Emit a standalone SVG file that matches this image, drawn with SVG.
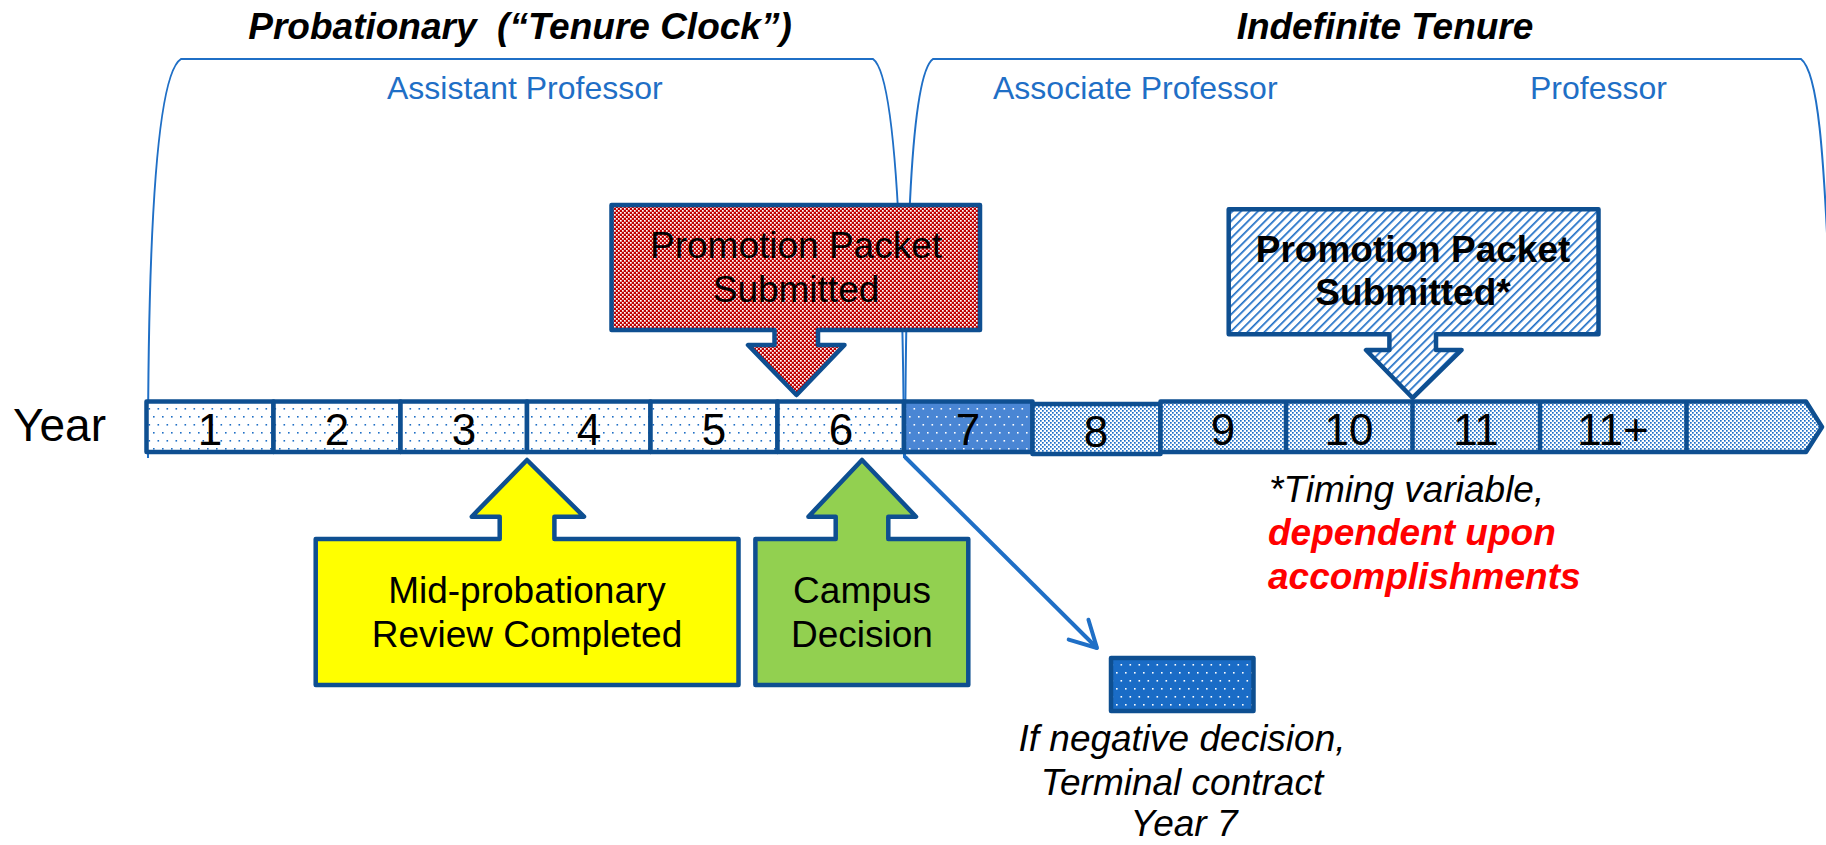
<svg xmlns="http://www.w3.org/2000/svg" width="1826" height="845" viewBox="0 0 1826 845">
<style>
text{font-family:"Liberation Sans",Arial,sans-serif;}
.ttl{font-size:37px;font-weight:bold;font-style:italic;fill:#000;text-anchor:middle;white-space:pre;}
.rank{font-size:32px;fill:#1f6fc6;}
.lbl{font-size:37px;fill:#000;text-anchor:middle;}
.num{font-size:44px;fill:#000;text-anchor:middle;}
.box{stroke:#0e4f91;stroke-width:4.5;stroke-linejoin:round;}
.brk{fill:none;stroke:#1f6fc6;stroke-width:2;}
.note{font-size:37px;font-style:italic;}
</style>
<defs>
<pattern id="dotsLight" width="9" height="16" patternUnits="userSpaceOnUse">
<rect width="9" height="16" fill="#fff"/>
<rect x="0" y="0" width="1.6" height="1.6" fill="#1f6fc6"/>
<rect x="4.5" y="8" width="1.6" height="1.6" fill="#1f6fc6"/>
</pattern>
<pattern id="dotsMid" width="9" height="16" patternUnits="userSpaceOnUse">
<rect width="9" height="16" fill="#4a86d4"/>
<rect x="0" y="0" width="1.6" height="1.6" fill="#fff"/>
<rect x="4.5" y="8" width="1.6" height="1.6" fill="#fff"/>
</pattern>
<pattern id="dotsDark" width="9" height="16" patternUnits="userSpaceOnUse">
<rect width="9" height="16" fill="#1a6cc6"/>
<rect x="0" y="0" width="1.6" height="1.6" fill="#fff"/>
<rect x="4.5" y="8" width="1.6" height="1.6" fill="#fff"/>
</pattern>
<pattern id="dotsDense" width="4" height="4" patternUnits="userSpaceOnUse">
<rect width="4" height="4" fill="#fff"/>
<rect x="0" y="0" width="1.7" height="1.7" fill="#1f6fc6"/>
<rect x="2" y="2" width="1.7" height="1.7" fill="#1f6fc6"/>
</pattern>
<pattern id="redCheck" width="4" height="4" patternUnits="userSpaceOnUse">
<rect width="4" height="4" fill="#c00000"/>
<rect x="0" y="0" width="1.7" height="1.7" fill="#fff"/>
<rect x="2" y="2" width="1.7" height="1.7" fill="#fff"/>
</pattern>
<pattern id="hatch" width="6" height="6" patternUnits="userSpaceOnUse" patternTransform="rotate(45)">
<rect width="6" height="6" fill="#fff"/>
<rect x="0" y="0" width="1.7" height="6" fill="#1f6fc6"/>
</pattern>
<marker id="openArrow" viewBox="-30 -18 34 36" markerWidth="34" markerHeight="36" refX="0" refY="0" orient="auto" markerUnits="userSpaceOnUse">
<path d="M-26,-14 L0,0 L-26,14" fill="none" stroke="#1f6fc6" stroke-width="4" stroke-linecap="round" stroke-linejoin="round"/>
</marker>
</defs>

<rect width="1826" height="845" fill="#fff"/>

<g id="titles">
<text class="ttl" x="520" y="39">Probationary  (“Tenure Clock”)</text>
<text class="ttl" x="1385" y="39">Indefinite Tenure</text>
</g>

<g id="brackets">
<path class="brk" d="M148,458 C148,250 155,75 181,59 L873,59 C896,75 903,250 904,458"/>
<path class="brk" d="M905,458 C906,250 910,75 933,59 L1801,59 C1818,72 1824,150 1830,300"/>
<text class="rank" x="387" y="99">Assistant Professor</text>
<text class="rank" x="993" y="99">Associate Professor</text>
<text class="rank" x="1530" y="99">Professor</text>
</g>

<g id="year-label">
<text x="13" y="441" font-size="46" fill="#000">Year</text>
</g>

<g id="timeline">
<rect class="box" x="146.5" y="401.5" width="127" height="50.5" fill="url(#dotsLight)"/>
<rect class="box" x="273.5" y="401.5" width="127" height="50.5" fill="url(#dotsLight)"/>
<rect class="box" x="400.5" y="401.5" width="126.5" height="50.5" fill="url(#dotsLight)"/>
<rect class="box" x="527" y="401.5" width="123.5" height="50.5" fill="url(#dotsLight)"/>
<rect class="box" x="650.5" y="401.5" width="127" height="50.5" fill="url(#dotsLight)"/>
<rect class="box" x="777.5" y="401.5" width="126.5" height="50.5" fill="url(#dotsLight)"/>
<rect class="box" x="904" y="401.5" width="128.5" height="50.5" fill="url(#dotsMid)"/>
<rect class="box" x="1032.5" y="404" width="128" height="50" fill="url(#dotsDense)"/>
<path class="box" d="M1160.5,401.5 H1806 L1822,427 L1806,452 H1160.5 Z" fill="url(#dotsDense)"/>
<line class="box" x1="1286" y1="401.5" x2="1286" y2="452"/>
<line class="box" x1="1412.5" y1="401.5" x2="1412.5" y2="452"/>
<line class="box" x1="1540" y1="401.5" x2="1540" y2="452"/>
<line class="box" x1="1686.5" y1="401.5" x2="1686.5" y2="452"/>
<text class="num" x="210" y="445">1</text>
<text class="num" x="337" y="445">2</text>
<text class="num" x="464" y="445">3</text>
<text class="num" x="589" y="445">4</text>
<text class="num" x="714" y="445">5</text>
<text class="num" x="841" y="445">6</text>
<text class="num" x="968" y="445">7</text>
<text class="num" x="1096" y="447">8</text>
<text class="num" x="1223" y="445">9</text>
<text class="num" x="1349" y="445">10</text>
<text class="num" x="1476" y="445">11</text>
<text class="num" x="1613" y="445">11+</text>
</g>

<g id="promo-packet-1">
<path class="box" d="M611.5,205 H980 V330 H818 V345 H844.5 L796.5,395 L748,345 H774.5 V330 H611.5 Z" fill="url(#redCheck)"/>
<text class="lbl" x="796" y="258">Promotion Packet</text>
<text class="lbl" x="796" y="302">Submitted</text>
</g>

<g id="promo-packet-2">
<path class="box" d="M1228.7,209.3 H1598.5 V334.3 H1436 V350 H1461.6 L1412.7,398 L1366,350 H1389.4 V334.3 H1228.7 Z" fill="url(#hatch)"/>
<text class="lbl" x="1413" y="262" font-weight="bold">Promotion Packet</text>
<text class="lbl" x="1413" y="305" font-weight="bold">Submitted*</text>
</g>

<g id="mid-review">
<path class="box" d="M315.7,539 H499.7 V516.7 H471.7 L527,460 L584,516.7 H554.4 V539 H738.5 V685 H315.7 Z" fill="#ffff00"/>
<text class="lbl" x="527" y="603">Mid-probationary</text>
<text class="lbl" x="527" y="647">Review Completed</text>
</g>

<g id="campus-decision">
<path class="box" d="M755.4,539 H835.7 V516.7 H808.4 L862,460 L916,516.7 H888.3 V539 H968.3 V685 H755.4 Z" fill="#92d050"/>
<text class="lbl" x="862" y="603">Campus</text>
<text class="lbl" x="862" y="647">Decision</text>
</g>

<g id="connectors">
<line x1="905" y1="457" x2="1097" y2="648" stroke="#1f6fc6" stroke-width="4" marker-end="url(#openArrow)"/>
</g>

<g id="terminal-contract">
<rect class="box" x="1111" y="658" width="142.5" height="53" fill="url(#dotsDark)"/>
<text class="lbl note" x="1182" y="751">If negative decision,</text>
<text class="lbl note" x="1182" y="795">Terminal contract</text>
<text class="lbl note" x="1184" y="836">Year 7</text>
</g>

<g id="timing-note">
<text class="note" x="1269" y="502" fill="#000">*Timing variable,</text>
<text class="note" x="1268" y="545" fill="#ff0000" font-weight="bold">dependent upon</text>
<text class="note" x="1268" y="589" fill="#ff0000" font-weight="bold">accomplishments</text>
</g>
</svg>
